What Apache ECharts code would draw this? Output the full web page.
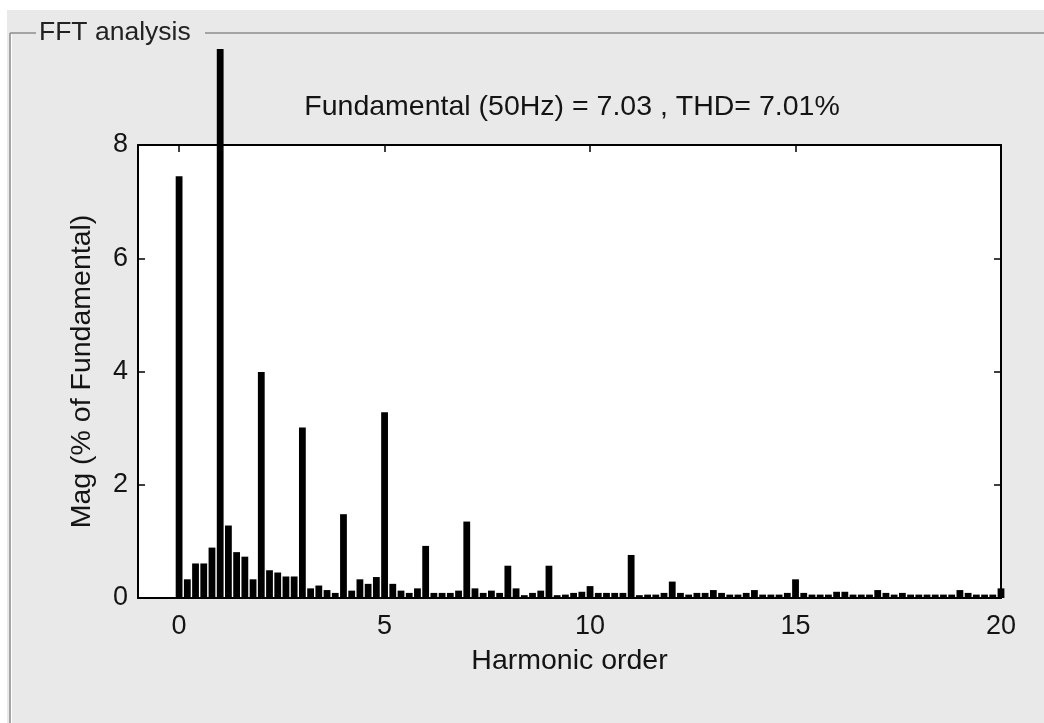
<!DOCTYPE html>
<html>
<head>
<meta charset="utf-8">
<title>FFT analysis</title>
<script src="https://cdn.jsdelivr.net/npm/echarts@6/dist/echarts.min.js"></script>
<style>
  html, body { margin: 0; padding: 0; background: #ffffff; }
  #chart { width: 1044px; height: 723px; }
</style>
</head>
<body>
<div id="chart"></div>
<script>
// Harmonic orders of the FFT bins (10 Hz resolution on a 50 Hz fundamental)
const orders = [
  0.0, 0.2, 0.4, 0.6, 0.8, 1.0, 1.2, 1.4, 1.6, 1.8,
  2.0, 2.2, 2.4, 2.6, 2.8, 3.0, 3.2, 3.4, 3.6, 3.8,
  4.0, 4.2, 4.4, 4.6, 4.8, 5.0, 5.2, 5.4, 5.6, 5.8,
  6.0, 6.2, 6.4, 6.6, 6.8, 7.0, 7.2, 7.4, 7.6, 7.8,
  8.0, 8.2, 8.4, 8.6, 8.8, 9.0, 9.2, 9.4, 9.6, 9.8,
  10.0, 10.2, 10.4, 10.6, 10.8, 11.0, 11.2, 11.4, 11.6, 11.8,
  12.0, 12.2, 12.4, 12.6, 12.8, 13.0, 13.2, 13.4, 13.6, 13.8,
  14.0, 14.2, 14.4, 14.6, 14.8, 15.0, 15.2, 15.4, 15.6, 15.8,
  16.0, 16.2, 16.4, 16.6, 16.8, 17.0, 17.2, 17.4, 17.6, 17.8,
  18.0, 18.2, 18.4, 18.6, 18.8, 19.0, 19.2, 19.4, 19.6, 19.8,
  20.0
];

// Magnitude of each bin, % of fundamental
const magnitudes = [
  7.45, 0.33, 0.61, 0.61, 0.89, 100, 1.28, 0.81, 0.73, 0.33,
  3.99, 0.49, 0.45, 0.38, 0.38, 3.01, 0.17, 0.22, 0.14, 0.09,
  1.48, 0.13, 0.33, 0.25, 0.37, 3.28, 0.25, 0.13, 0.09, 0.17,
  0.92, 0.09, 0.09, 0.09, 0.13, 1.35, 0.17, 0.09, 0.13, 0.09,
  0.57, 0.17, 0.05, 0.09, 0.13, 0.57, 0.05, 0.06, 0.09, 0.11,
  0.21, 0.09, 0.09, 0.09, 0.09, 0.76, 0.05, 0.06, 0.06, 0.09,
  0.29, 0.09, 0.06, 0.09, 0.09, 0.14, 0.09, 0.06, 0.06, 0.09,
  0.14, 0.06, 0.06, 0.06, 0.09, 0.33, 0.09, 0.06, 0.06, 0.06,
  0.11, 0.11, 0.06, 0.06, 0.06, 0.14, 0.09, 0.06, 0.09, 0.06,
  0.06, 0.06, 0.06, 0.06, 0.06, 0.14, 0.09, 0.06, 0.06, 0.06,
  0.17
];

const fundamentalOrder = 1.0;
const xTicks = [0, 5, 10, 15, 20];

const panelTitle = 'FFT analysis';
const chartTitle = 'Fundamental (50Hz) = 7.03 , THD= 7.01%';
const xName = 'Harmonic order';
const yName = 'Mag (% of Fundamental)';

// Split the spectrum: the fundamental bar is drawn unclipped
const harmonicData = [];
const fundamentalData = [];
orders.forEach((o, i) => {
  if (o === fundamentalOrder) fundamentalData.push([o, magnitudes[i]]);
  else harmonicData.push([o, magnitudes[i]]);
});

const FONT = "'Liberation Sans', Arial, sans-serif";
const TEXT = '#141414';
const PANEL_BG = '#e9e9e9';
const EDGE = '#8c8c8c';

const chart = echarts.init(document.getElementById('chart'), null, { renderer: 'canvas' });

const tickStyle = { show: true, inside: true, length: 7, lineStyle: { color: '#000', width: 1.5 } };
const lineStyle = { show: true, onZero: false, lineStyle: { color: '#000', width: 2 } };

chart.setOption({
  backgroundColor: PANEL_BG,
  animation: false,
  title: {
    text: chartTitle,
    left: 567,
    top: 88,
    textAlign: 'center',
    textStyle: { fontFamily: FONT, fontSize: 28.5, fontWeight: 'normal', color: TEXT }
  },
  grid: {
    left: 138, right: 43, top: 145, bottom: 125,
    show: true, backgroundColor: '#ffffff', borderWidth: 0,
    containLabel: false
  },
  xAxis: [
    {
      type: 'value', position: 'bottom', min: -1, max: 20,
      axisLine: lineStyle,
      axisTick: Object.assign({ customValues: xTicks }, tickStyle),
      axisLabel: {
        customValues: xTicks, margin: 15, color: TEXT,
        fontFamily: FONT, fontSize: 27
      },
      splitLine: { show: false },
      name: xName, nameLocation: 'middle', nameGap: 49,
      nameTextStyle: { fontFamily: FONT, fontSize: 28.5, color: TEXT }
    },
    {
      type: 'value', position: 'top', min: -1, max: 20,
      axisLine: lineStyle,
      axisTick: Object.assign({ customValues: xTicks }, tickStyle),
      axisLabel: { show: false },
      splitLine: { show: false }
    }
  ],
  yAxis: [
    {
      type: 'value', position: 'left', min: 0, max: 8, interval: 2,
      axisLine: lineStyle,
      axisTick: tickStyle,
      axisLabel: { margin: 10, color: TEXT, fontFamily: FONT, fontSize: 27 },
      splitLine: { show: false },
      name: yName, nameLocation: 'middle', nameRotate: 90, nameGap: 41,
      nameTextStyle: { fontFamily: FONT, fontSize: 28.5, color: TEXT }
    },
    {
      type: 'value', position: 'right', min: 0, max: 8, interval: 2,
      axisLine: lineStyle,
      axisTick: tickStyle,
      axisLabel: { show: false },
      splitLine: { show: false }
    }
  ],
  series: [
    {
      name: 'Harmonics', type: 'bar', xAxisIndex: 0, yAxisIndex: 0,
      data: harmonicData, barWidth: 6.8, barGap: '-100%',
      itemStyle: { color: '#000000' }, clip: true, z: 3
    },
    {
      name: 'Fundamental', type: 'bar', xAxisIndex: 0, yAxisIndex: 0,
      data: fundamentalData, barWidth: 6.8, barGap: '-100%',
      itemStyle: { color: '#000000' }, clip: false, z: 3
    }
  ],
  graphic: [
    // page margin strips and the panel's upper edge (hide the tall bar beyond the panel)
    { type: 'rect', z: 50, silent: true, shape: { x: 0, y: 0, width: 1044, height: 10 }, style: { fill: '#ffffff' } },
    { type: 'rect', z: 50, silent: true, shape: { x: 0, y: 0, width: 7, height: 723 }, style: { fill: '#ffffff' } },
    { type: 'rect', z: 50, silent: true, shape: { x: 7, y: 10, width: 1037, height: 39 }, style: { fill: PANEL_BG } },
    // etched panel border
    { type: 'line', z: 60, silent: true, shape: { x1: 10, y1: 33, x2: 36, y2: 33 }, style: { stroke: EDGE, lineWidth: 1.5 } },
    { type: 'line', z: 60, silent: true, shape: { x1: 205, y1: 33, x2: 1044, y2: 33 }, style: { stroke: EDGE, lineWidth: 1.5 } },
    { type: 'line', z: 60, silent: true, shape: { x1: 10, y1: 33, x2: 10, y2: 723 }, style: { stroke: EDGE, lineWidth: 1.5 } },
    { type: 'line', z: 60, silent: true, shape: { x1: 11.5, y1: 34.5, x2: 11.5, y2: 723 }, style: { stroke: '#ffffff', lineWidth: 1 } },
    {
      type: 'text', z: 60, silent: true, x: 39, y: 33,
      style: {
        text: panelTitle, fontFamily: FONT, fontSize: 26.5, fill: '#222222',
        verticalAlign: 'middle'
      }
    }
  ]
});
</script>
</body>
</html>
